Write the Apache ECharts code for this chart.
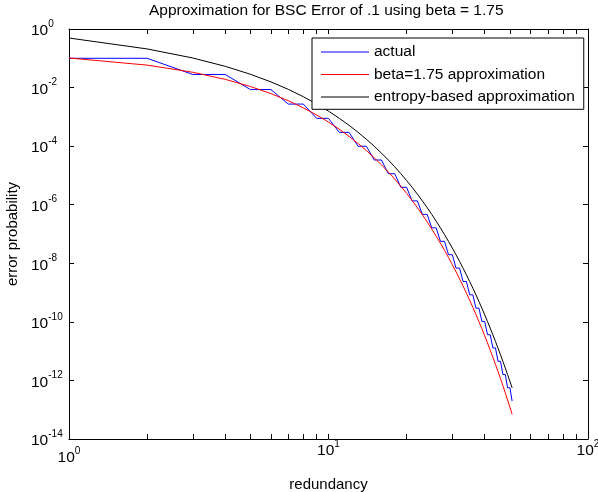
<!DOCTYPE html>
<html>
<head>
<meta charset="utf-8">
<script src="https://cdn.jsdelivr.net/npm/echarts@6/dist/echarts.min.js"></script>
<style>
  html, body { margin: 0; padding: 0; background: #fff; }
  #chart { width: 598px; height: 492px; }
</style>
</head>
<body>
<div id="chart"></div>
<script>
// x: redundancy (number of repetitions)
const redundancy = [
  1, 2, 3, 4, 5, 6, 7, 8, 9, 10, 11, 12, 13, 14, 15, 16, 17, 18, 19, 20,
  21, 22, 23, 24, 25, 26, 27, 28, 29, 30, 31, 32, 33, 34, 35, 36, 37, 38, 39, 40,
  41, 42, 43, 44, 45, 46, 47, 48, 49, 50, 51
]

// blue: actual error probability (stair steps)
const actual = [
  0.1, 0.1, 0.028, 0.028, 8.56e-3, 8.56e-3, 2.728e-3, 2.728e-3, 8.909e-4, 8.909e-4,
  2.957e-4, 2.957e-4, 9.928e-5, 9.928e-5, 3.362e-5, 3.362e-5, 1.146e-5, 1.146e-5, 3.930e-6, 3.930e-6,
  1.353e-6, 1.353e-6, 4.675e-7, 4.675e-7, 1.621e-7, 1.621e-7, 5.633e-8, 5.633e-8, 1.963e-8, 1.963e-8,
  6.850e-9, 6.850e-9, 2.396e-9, 2.396e-9, 8.391e-10, 8.391e-10, 2.943e-10, 2.943e-10, 1.034e-10, 1.034e-10,
  3.635e-11, 3.635e-11, 1.280e-11, 1.280e-11, 4.508e-12, 4.508e-12, 1.590e-12, 1.590e-12, 5.611e-13, 5.611e-13,
  1.982e-13
]

// red: beta = 1.75 approximation
const betaApprox = [
  0.1023, 0.05843, 0.03337, 0.01906, 0.01088, 6.215e-3, 3.549e-3, 2.027e-3, 1.158e-3, 6.61e-4,
  3.776e-4, 2.157e-4, 1.231e-4, 7.03e-5, 4.016e-5, 2.294e-5, 1.310e-5, 7.48e-6, 4.27e-6, 2.440e-6,
  1.393e-6, 7.96e-7, 4.544e-7, 2.595e-7, 1.482e-7, 8.46e-8, 4.833e-8, 2.760e-8, 1.576e-8, 9.00e-9,
  5.14e-9, 2.935e-9, 1.676e-9, 9.57e-10, 5.47e-10, 3.123e-10, 1.783e-10, 1.018e-10, 5.815e-11, 3.321e-11,
  1.897e-11, 1.083e-11, 6.19e-12, 3.533e-12, 2.018e-12, 1.152e-12, 6.58e-13, 3.757e-13, 2.146e-13, 1.225e-13,
  7.00e-14
]

// black: entropy-based approximation
const entropyApprox = [
  0.492, 0.2088, 0.1023, 0.05313, 0.02851, 0.01561, 8.678e-3, 4.869e-3, 2.755e-3, 1.568e-3,
  8.97e-4, 5.15e-4, 2.97e-4, 1.717e-4, 9.96e-5, 5.78e-5, 3.367e-5, 1.963e-5, 1.147e-5, 6.70e-6,
  3.926e-6, 2.300e-6, 1.350e-6, 7.93e-7, 4.66e-7, 2.742e-7, 1.615e-7, 9.52e-8, 5.61e-8, 3.309e-8,
  1.953e-8, 1.153e-8, 6.82e-9, 4.03e-9, 2.383e-9, 1.409e-9, 8.34e-10, 4.94e-10, 2.925e-10, 1.733e-10,
  1.027e-10, 6.09e-11, 3.61e-11, 2.142e-11, 1.271e-11, 7.54e-12, 4.475e-12, 2.657e-12, 1.578e-12, 9.37e-13,
  5.57e-13
]

// tick positions
const xTicks = [1, 2, 3, 4, 5, 6, 7, 8, 9, 10, 20, 30, 40, 50, 60, 70, 80, 90, 100]
const xLabels = [10, 100]
const xFirstLabel = [1]
const yTicks = [1e-14, 1e-12, 1e-10, 1e-8, 1e-6, 1e-4, 1e-2, 1]

const FONT = 'Liberation Sans, Arial, Helvetica, sans-serif'
const toPairs = (ys) => redundancy.map((x, i) => [x, ys[i]])
const expOf = (v) => Math.round(Math.log10(v))
const powLabel = (v) => '{b|10}{s|' + expOf(v) + '}'

const chart = echarts.init(document.getElementById('chart'), null, { renderer: 'canvas' })

const tickStyle = { inside: true, length: 5, lineStyle: { color: '#000', width: 1 } }
const lineStyleAxis = { show: true, lineStyle: { color: '#000', width: 1 } }
const powRich = {
  b: { fontSize: 15.5, lineHeight: 20, verticalAlign: 'bottom', color: '#000', fontFamily: FONT },
  s: { fontSize: 10, lineHeight: 10, verticalAlign: 'top', color: '#000', fontFamily: FONT }
}

const option = {
  animation: false,
  backgroundColor: '#fff',
  textStyle: { fontFamily: FONT },
  title: {
    text: 'Approximation for BSC Error of .1 using beta = 1.75',
    left: 149,
    top: 0,
    padding: [3, 0, 3, 0],
    textStyle: { fontSize: 15.5, fontWeight: 'normal', color: '#000', fontFamily: FONT }
  },
  legend: {
    orient: 'vertical',
    left: 312,
    top: 38,
    padding: [6, 9, 4.3, 9],
    icon: 'rect',
    itemWidth: 48,
    itemHeight: 1.2,
    itemGap: 6.5,
    backgroundColor: '#fff',
    borderColor: '#000',
    borderWidth: 1,
    borderRadius: 0,
    selectedMode: false,
    textStyle: { fontSize: 15.5, color: '#000', fontFamily: FONT, lineHeight: 16 },
    data: ['actual', 'beta=1.75 approximation', 'entropy-based approximation']
  },
  grid: { left: 69, right: 10, top: 29, bottom: 53, containLabel: false, outerBoundsMode: 'none' },
  xAxis: [
    {
      type: 'log',
      logBase: 10,
      min: 1,
      max: 100,
      position: 'bottom',
      name: 'redundancy',
      nameLocation: 'middle',
      nameGap: 38,
      nameTextStyle: { fontSize: 15, color: '#000', fontFamily: FONT },
      axisLine: lineStyleAxis,
      axisTick: Object.assign({ customValues: xTicks }, tickStyle),
      splitLine: { show: false },
      minorTick: { show: false },
      axisLabel: { customValues: xLabels, margin: 0, color: '#000', formatter: powLabel, rich: powRich }
    },
    {
      type: 'log',
      logBase: 10,
      min: 1,
      max: 100,
      position: 'top',
      axisLine: lineStyleAxis,
      axisTick: Object.assign({ customValues: xTicks }, tickStyle),
      axisLabel: { show: false },
      splitLine: { show: false }
    },
    {
      // the 10^0 label sits a little lower than the others
      type: 'log',
      logBase: 10,
      min: 1,
      max: 100,
      position: 'bottom',
      axisLine: { show: false },
      axisTick: { show: false },
      splitLine: { show: false },
      axisLabel: { customValues: xFirstLabel, margin: 7, color: '#000', formatter: powLabel, rich: powRich }
    }
  ],
  yAxis: [
    {
      type: 'log',
      logBase: 10,
      min: 1e-14,
      max: 1,
      position: 'left',
      name: 'error probability',
      nameLocation: 'middle',
      nameGap: 46,
      nameTextStyle: { fontSize: 15, color: '#000', fontFamily: FONT },
      axisLine: lineStyleAxis,
      axisTick: Object.assign({ customValues: yTicks }, tickStyle),
      splitLine: { show: false },
      axisLabel: {
        customValues: yTicks,
        align: 'left',
        margin: 38,
        color: '#000',
        formatter: powLabel,
        rich: powRich
      }
    },
    {
      type: 'log',
      logBase: 10,
      min: 1e-14,
      max: 1,
      position: 'right',
      axisLine: lineStyleAxis,
      axisTick: Object.assign({ customValues: yTicks }, tickStyle),
      axisLabel: { show: false },
      splitLine: { show: false }
    }
  ],
  series: [
    {
      name: 'actual',
      type: 'line',
      data: toPairs(actual),
      symbol: 'none',
      lineStyle: { color: '#0000ff', width: 1 },
      itemStyle: { color: '#0000ff' }
    },
    {
      name: 'beta=1.75 approximation',
      type: 'line',
      data: toPairs(betaApprox),
      symbol: 'none',
      lineStyle: { color: '#ff0000', width: 1 },
      itemStyle: { color: '#ff0000' }
    },
    {
      name: 'entropy-based approximation',
      type: 'line',
      data: toPairs(entropyApprox),
      symbol: 'none',
      lineStyle: { color: '#000000', width: 1 },
      itemStyle: { color: '#000000' }
    }
  ]
}

chart.setOption(option)
</script>
</body>
</html>
